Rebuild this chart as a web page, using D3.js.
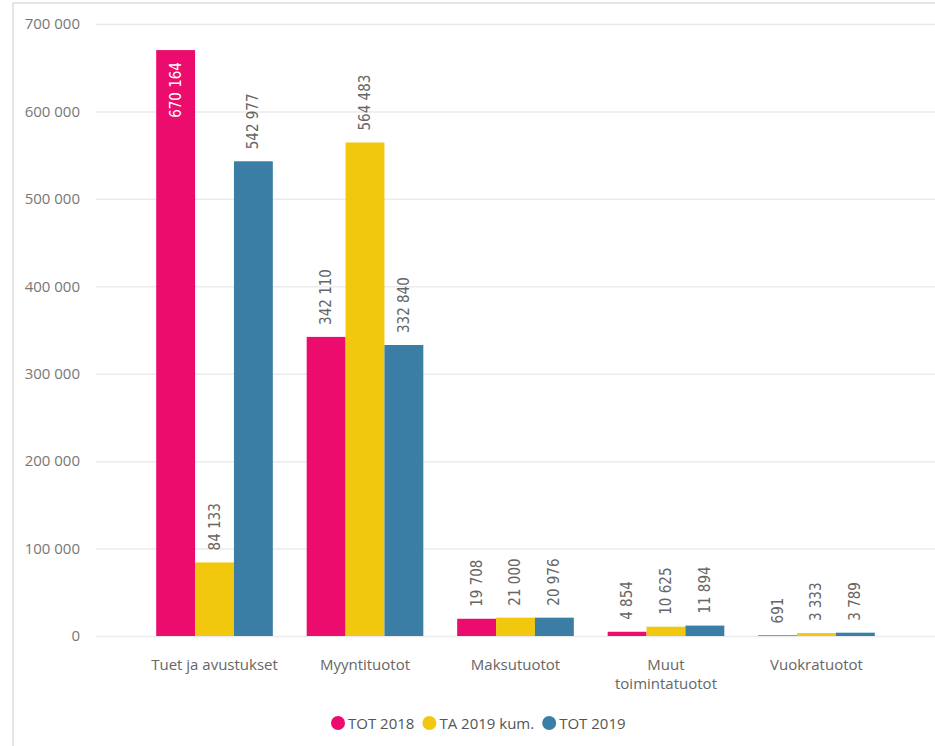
<!DOCTYPE html>
<html>
<head>
<meta charset="utf-8">
<script src="https://cdn.jsdelivr.net/npm/d3@7"></script>
<style>
  body { margin: 0; background: #fff; }
  svg { display: block; }
</style>
</head>
<body>
<script>
// categories and series
var categories = ['Tuet ja avustukset', 'Myyntituotot', 'Maksutuotot', 'Muut toimintatuotot', 'Vuokratuotot'];
var seriesNames = ['TOT 2018', 'TA 2019 kum.', 'TOT 2019'];
var tot2018 = [670164, 342110, 19708, 4854, 691];
var ta2019 = [84133, 564483, 21000, 10625, 3333];
var tot2019 = [542977, 332840, 20976, 11894, 3789];
var yTicks = [0, 100000, 200000, 300000, 400000, 500000, 600000, 700000];

var colors = ['#EC0C6D', '#F2C80F', '#3A7EA5'];
var seriesValues = [tot2018, ta2019, tot2019];

var W = 935, H = 746;
var plot = {left: 96, right: 935, top: 24, bottom: 636};

// thousands separated by a space
var fmt = function(v) { return d3.format(',')(v).replace(/,/g, ' '); };

var svg = d3.select('body').append('svg')
    .attr('width', W)
    .attr('height', H);

// panel frame
svg.append('rect')
    .attr('x', 13).attr('y', 3)
    .attr('width', W).attr('height', H)
    .attr('fill', 'none')
    .attr('stroke', '#e6e6e6')
    .attr('stroke-width', 2);

var x0 = d3.scaleBand()
    .domain(categories)
    .range([plot.left, plot.right])
    .paddingInner(0.225)
    .paddingOuter(0.4);
var x1 = d3.scaleBand()
    .domain(seriesNames)
    .range([0, x0.bandwidth()]);
var y = d3.scaleLinear()
    .domain([0, 700000])
    .range([plot.bottom, plot.top]);

// gridlines + y labels
var yAxis = d3.axisLeft(y)
    .tickValues(yTicks)
    .tickFormat(fmt)
    .tickSize(-(plot.right - plot.left))
    .tickPadding(16);
var gy = svg.append('g')
    .attr('transform', `translate(${plot.left},0)`)
    .call(yAxis);
gy.select('.domain').remove();
gy.selectAll('.tick line').attr('stroke', '#ebebeb').attr('stroke-width', 1.5);
gy.selectAll('.tick text')
    .attr('fill', '#777')
    .style('font-family', '"Open Sans", "Segoe UI", sans-serif')
    .style('font-size', '15px');

// bars
var groups = svg.selectAll('g.cat')
    .data(categories)
    .enter()
  .append('g')
    .attr('class', 'cat')
    .attr('transform', function(d) { return `translate(${x0(d)},0)`; });

var cells = groups.selectAll('g.bar')
    .data(function(d, i) {
      return seriesNames.map(function(s, j) {
        return {series: s, j: j, value: seriesValues[j][i]};
      });
    })
    .enter()
  .append('g')
    .attr('class', 'bar');

cells.append('rect')
    .attr('x', function(d) { return x1(d.series); })
    .attr('y', function(d) { return y(d.value); })
    .attr('width', x1.bandwidth())
    .attr('height', function(d) { return plot.bottom - y(d.value); })
    .attr('fill', function(d) { return colors[d.j]; });

// rotated value labels, above the bar unless they would not fit
cells.append('text')
    .text(function(d) { return fmt(d.value); })
    .style('font-family', '"DejaVu Sans Condensed", "Liberation Sans Narrow", sans-serif')
    .style('font-stretch', 'condensed')
    .style('font-size', '15px')
    .attr('dominant-baseline', 'central')
    .each(function(d) {
      var t = d3.select(this);
      var cx = x1(d.series) + x1.bandwidth() / 2;
      var top = y(d.value);
      var len = this.getComputedTextLength();
      var inside = top - 12 - len < 0;
      var ty = inside ? top + 12 : top - 12;
      t.attr('x', cx).attr('y', ty)
        .attr('text-anchor', inside ? 'end' : 'start')
        .attr('fill', inside ? '#fff' : '#666')
        .attr('transform', `rotate(-90,${cx},${ty})`);
    });

// category labels, wrapped when too wide
var xLabels = svg.append('g');
categories.forEach(function(c) {
  var t = xLabels.append('text')
      .attr('x', x0(c) + x0.bandwidth() / 2)
      .attr('y', 670)
      .attr('text-anchor', 'middle')
      .attr('fill', '#666')
      .style('font-family', '"Open Sans", "Segoe UI", sans-serif')
      .style('font-size', '15px');
  var words = c.split(' ');
  var line = [];
  var tspan = t.append('tspan').attr('x', x0(c) + x0.bandwidth() / 2);
  words.forEach(function(w) {
    line.push(w);
    tspan.text(line.join(' '));
    if (tspan.node().getComputedTextLength() > 140 && line.length > 1) {
      line.pop();
      tspan.text(line.join(' '));
      line = [w];
      tspan = t.append('tspan')
          .attr('x', x0(c) + x0.bandwidth() / 2)
          .attr('dy', '1.25em')
          .text(w);
    }
  });
});

// legend
var legend = svg.append('g').attr('transform', 'translate(0,723)');
var lx = 331;
seriesNames.forEach(function(s, i) {
  legend.append('circle')
      .attr('cx', lx + 7).attr('cy', 0).attr('r', 7)
      .attr('fill', colors[i]);
  var t = legend.append('text')
      .attr('x', lx + 17).attr('y', 0)
      .attr('dominant-baseline', 'central')
      .attr('fill', '#555')
      .style('font-family', '"Open Sans", "Segoe UI", sans-serif')
      .style('font-size', '15px')
      .text(s);
  lx += 17 + t.node().getComputedTextLength() + 8;
});
</script>
</body>
</html>
